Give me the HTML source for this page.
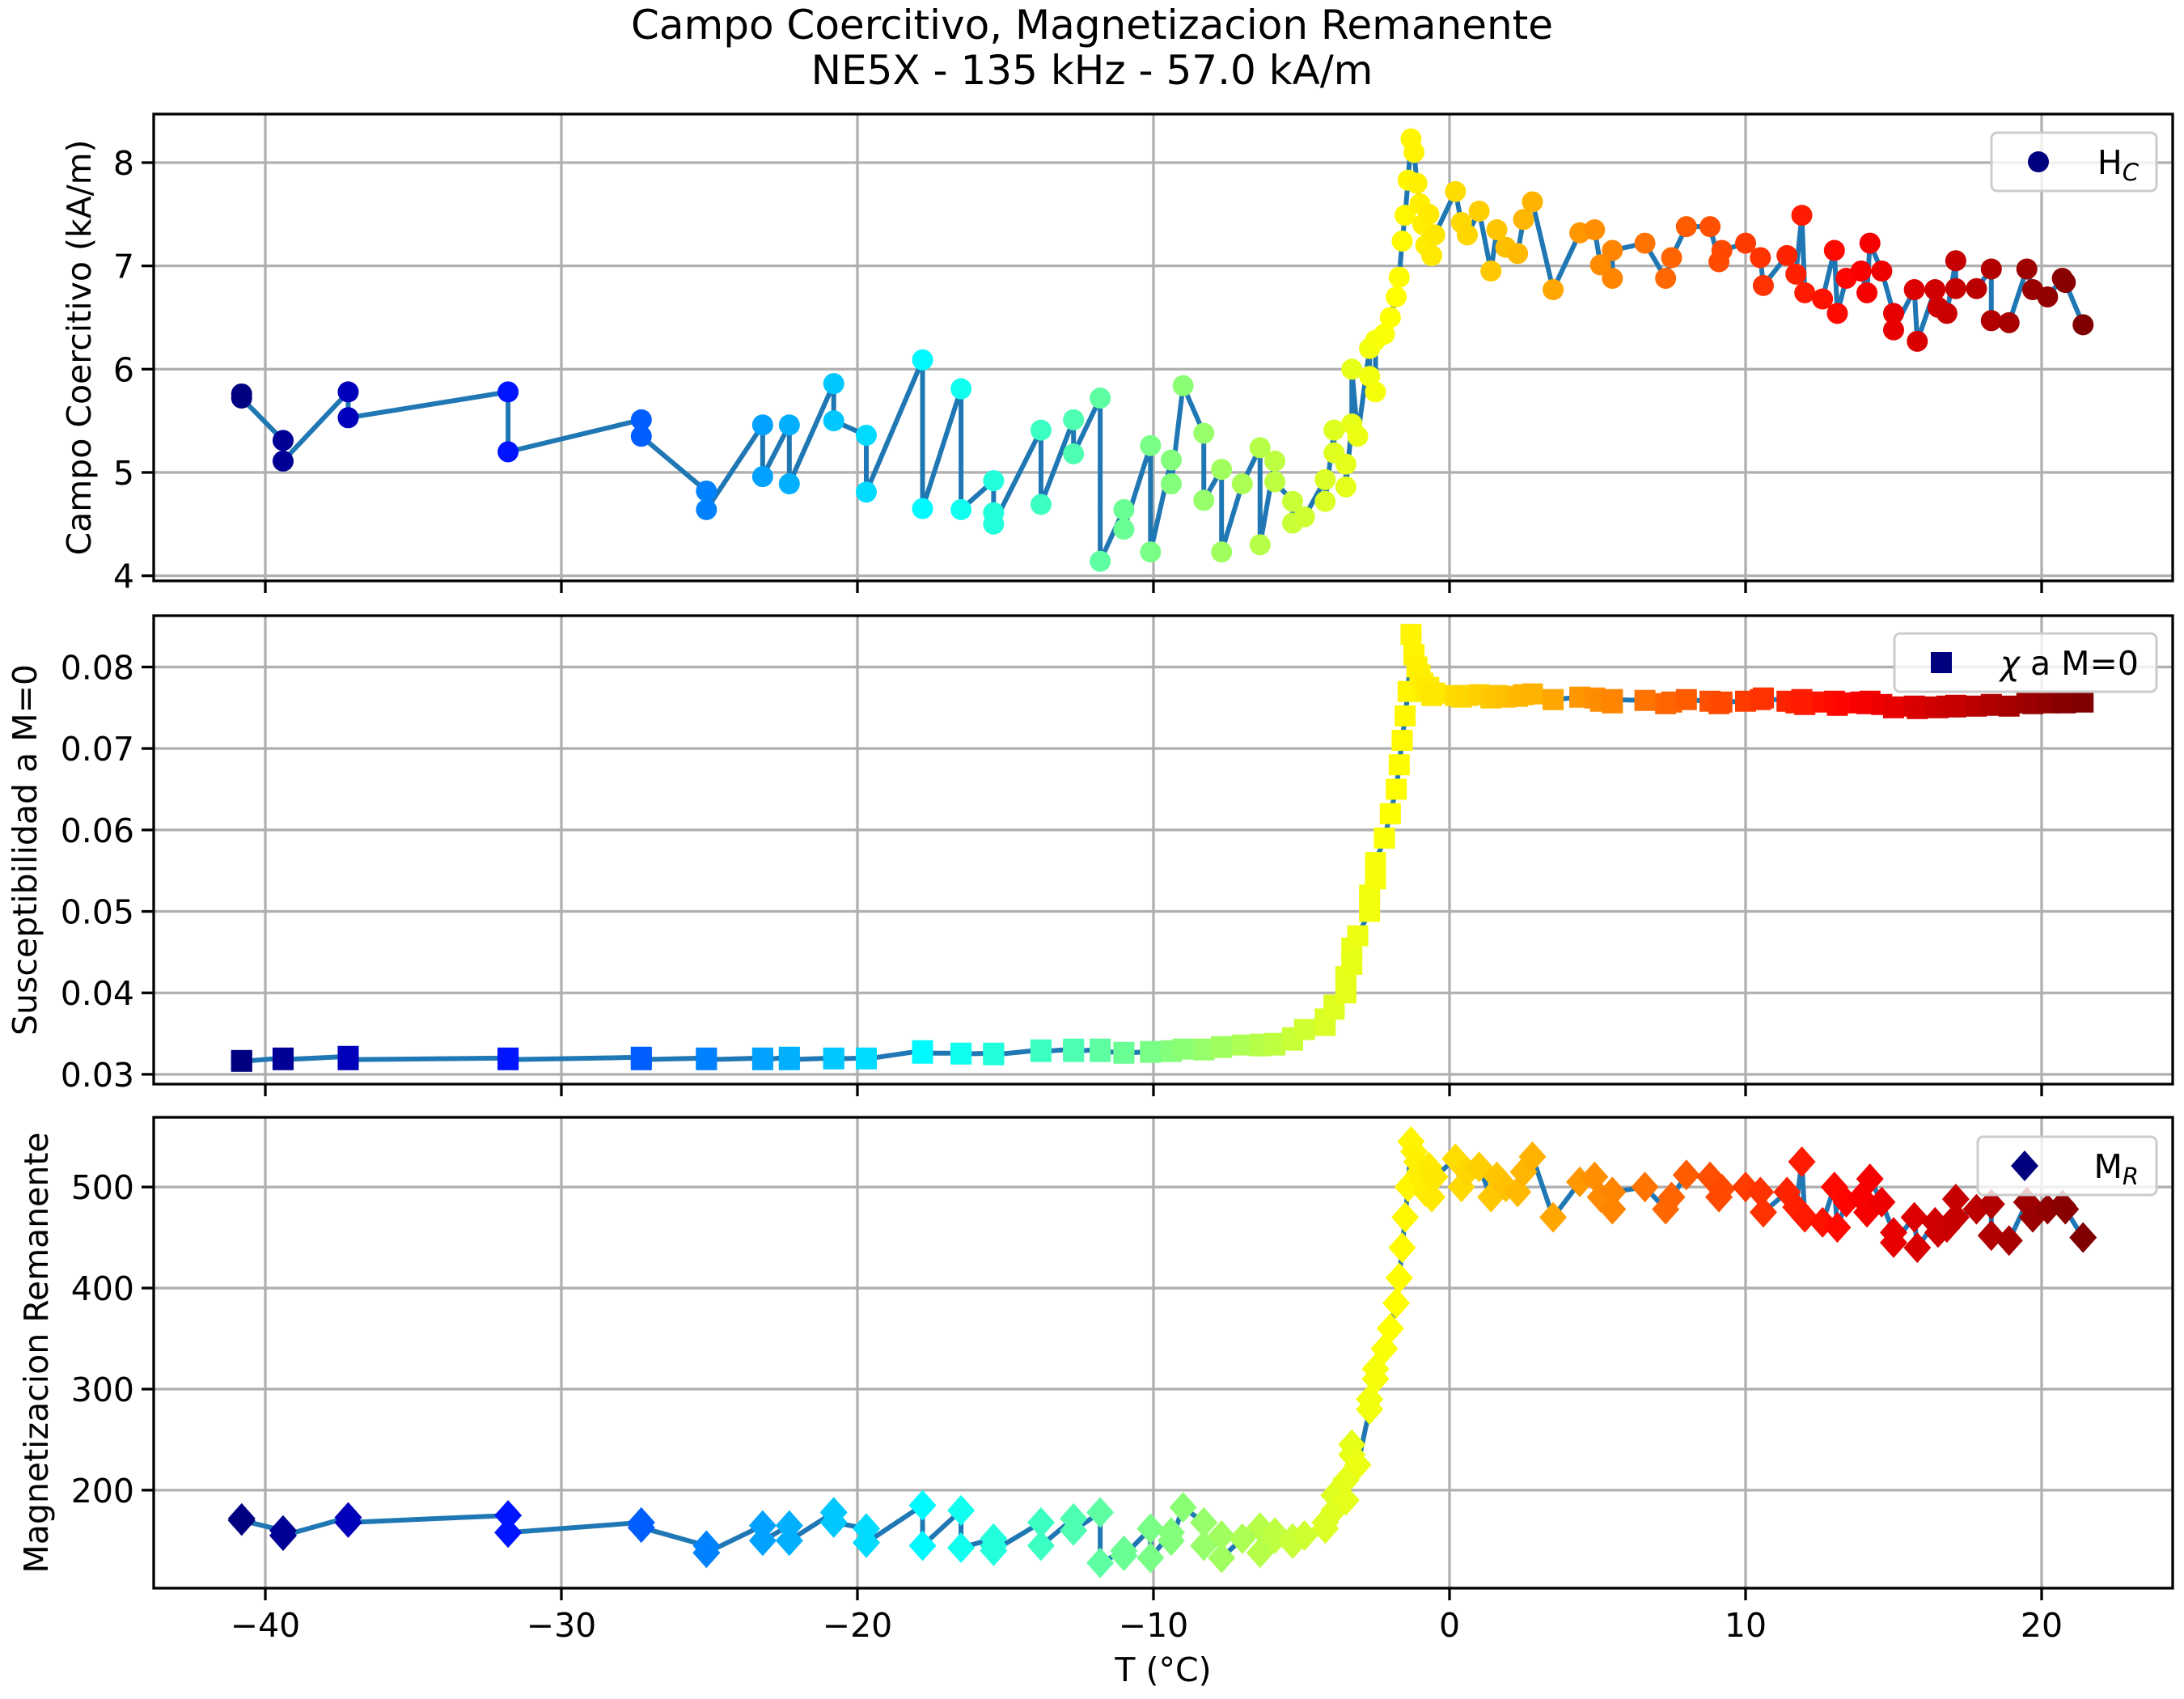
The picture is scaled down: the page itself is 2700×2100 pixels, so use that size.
<!DOCTYPE html>
<html><head><meta charset="utf-8">
<style>
html,body{margin:0;padding:0;background:#fff;}
svg{display:block;font-family:"DejaVu Sans","Liberation Sans",sans-serif;}
</style></head>
<body>
<svg id="chart" width="2700" height="2100" viewBox="0 0 2700 2100" xmlns="http://www.w3.org/2000/svg">
<text x="1350" y="48" font-size="50" text-anchor="middle">Campo Coercitivo, Magnetizacion Remanente</text>
<text x="1350" y="104" font-size="50" text-anchor="middle">NE5X - 135 kHz - 57.0 kA/m</text>
<text x="1438" y="2078" font-size="41" text-anchor="middle">T (°C)</text>
</svg>
<script>
const temps=[-40.8,-40.8,-39.4,-39.4,-37.2,-37.2,-31.8,-31.8,-27.3,-27.3,-25.1,-25.1,-23.2,-23.2,-22.3,-22.3,-20.8,-20.8,-19.7,-19.7,-17.8,-17.8,-16.5,-16.5,-15.4,-15.4,-15.4,-13.8,-13.8,-12.7,-12.7,-11.8,-11.8,-11.0,-11.0,-10.1,-10.1,-9.4,-9.4,-9.0,-8.3,-8.3,-7.7,-7.7,-7.0,-6.4,-6.4,-5.9,-5.9,-5.3,-5.3,-4.9,-4.2,-4.2,-3.9,-3.9,-3.5,-3.5,-3.3,-3.3,-3.1,-2.7,-2.7,-2.5,-2.5,-2.2,-2.0,-1.8,-1.7,-1.6,-1.5,-1.4,-1.3,-1.2,-1.1,-1.0,-0.9,-0.8,-0.7,-0.6,-0.5,0.2,0.4,0.6,1.0,1.4,1.6,1.9,2.3,2.5,2.8,3.5,4.4,4.9,5.1,5.5,5.5,6.6,7.3,7.5,8.0,8.8,9.1,9.2,10.0,10.5,10.6,11.4,11.7,11.9,12.0,12.6,13.0,13.1,13.4,13.9,14.1,14.2,14.6,15.0,15.0,15.7,15.8,16.4,16.5,16.8,17.1,17.1,17.8,18.3,18.3,18.9,19.5,19.7,20.2,20.7,20.8,21.4];
const hcValues=[5.76,5.72,5.31,5.11,5.78,5.53,5.78,5.20,5.51,5.35,4.82,4.64,5.46,4.96,5.46,4.89,5.86,5.50,5.36,4.81,6.09,4.65,5.81,4.64,4.92,4.61,4.50,5.41,4.69,5.51,5.18,5.72,4.14,4.64,4.45,5.26,4.23,5.12,4.89,5.84,5.38,4.73,5.03,4.23,4.89,5.24,4.30,5.11,4.91,4.72,4.51,4.57,4.93,4.72,5.41,5.19,5.08,4.86,5.47,6.00,5.35,6.20,5.93,5.78,6.28,6.34,6.50,6.70,6.89,7.24,7.49,7.83,8.23,8.10,7.80,7.60,7.40,7.20,7.50,7.10,7.30,7.72,7.42,7.30,7.53,6.95,7.35,7.18,7.12,7.45,7.62,6.77,7.32,7.35,7.01,6.88,7.15,7.22,6.88,7.08,7.38,7.38,7.04,7.15,7.22,7.08,6.81,7.10,6.92,7.49,6.74,6.68,7.15,6.54,6.88,6.95,6.74,7.22,6.95,6.54,6.38,6.77,6.27,6.77,6.60,6.54,7.05,6.78,6.78,6.97,6.47,6.45,6.97,6.77,6.70,6.88,6.84,6.43];
const chiValues=[.0317,.0316,.0320,.0318,.0322,.0318,.0320,.0318,.0321,.0318,.0320,.0318,.0320,.0318,.0321,.0318,.0320,.0319,.0320,.0319,.0329,.0326,.0326,.0325,.0326,.0325,.0324,.0330,.0328,.0331,.0328,.0331,.0328,.0327,.0326,.0328,.0327,.0329,.0328,.0331,.0331,.0330,.0334,.0333,.0336,.0337,.0335,.0338,.0336,.0345,.0342,.0355,.0360,.0368,.0380,.0385,.0400,.0420,.0435,.0455,.0470,.0500,.0520,.0540,.0560,.0590,.0620,.0650,.0680,.0710,.0740,.0770,.0840,.0815,.0800,.0790,.0780,.0770,.0775,.0765,.0768,.0765,.0763,.0765,.0766,.0762,.0765,.0763,.0764,.0766,.0767,.0760,.0763,.0762,.0758,.0756,.0760,.0759,.0755,.0757,.0760,.0758,.0755,.0757,.0758,.0760,.0762,.0758,.0756,.0760,.0754,.0757,.0758,.0753,.0756,.0757,.0755,.0758,.0754,.0751,.0750,.0752,.0749,.0751,.0750,.0752,.0753,.0751,.0752,.0754,.0753,.0752,.0756,.0755,.0756,.0757,.0756,.0757];
const mrValues=[172,170,160,155,173,168,175,158,168,163,145,138,165,150,165,150,178,168,162,148,185,145,180,143,152,145,140,168,145,172,160,178,128,140,135,162,133,158,150,183,168,145,155,133,152,163,138,158,152,152,147,155,162,168,180,195,190,210,235,245,225,280,290,310,320,340,360,385,410,440,470,500,545,535,525,515,505,495,520,490,510,528,500,515,520,490,510,500,495,515,530,470,505,510,490,478,495,500,478,490,512,510,490,498,500,495,475,495,480,525,470,465,500,460,485,490,475,508,485,455,445,470,440,465,455,460,488,470,478,483,452,447,485,470,478,482,478,450];
const xTicks=[-40,-30,-20,-10,0,10,20];
const hcTicks=[4,5,6,7,8];
const chiTicks=[0.03,0.04,0.05,0.06,0.07,0.08];
const chiTickLabels=["0.03","0.04","0.05","0.06","0.07","0.08"];
const mrTicks=[200,300,400,500];

const NS="http://www.w3.org/2000/svg";
const svg=document.getElementById('chart');
const L=190,R=2686;
const xScale=t=>1792+(t-0)*36.6;
function mk(tag,attrs,parent){const e=document.createElementNS(NS,tag);for(const k in attrs)e.setAttribute(k,attrs[k]);(parent||svg).appendChild(e);return e;}
function jet(v){const r=Math.max(0,Math.min(1,Math.min(4*v-1.5,-4*v+4.5)));const g=Math.max(0,Math.min(1,Math.min(4*v-0.5,-4*v+3.5)));const b=Math.max(0,Math.min(1,Math.min(4*v+0.5,-4*v+2.5)));return `rgb(${Math.round(r*255)},${Math.round(g*255)},${Math.round(b*255)})`;}
const tmin=Math.min(...temps),tmax=Math.max(...temps);

const panels=[
 {name:'hc',top:141,bot:718,vmin:3.95,vmax:8.47,vals:hcValues,ticks:hcTicks,labels:hcTicks.map(String),marker:'circle',ylabel:'Campo Coercitivo (kA/m)',ylx:98,legend:[2462,164,204,72],leg:'H',sub:'C',showX:false},
 {name:'chi',top:761,bot:1340,vmin:0.0288,vmax:0.0863,vals:chiValues,ticks:chiTicks,labels:chiTickLabels,marker:'square',ylabel:'Susceptibilidad a M=0',ylx:31,legend:[2342,783,324,72],leg:'χ a M=0',showX:false},
 {name:'mr',top:1381,bot:1963,vmin:103,vmax:569,vals:mrValues,ticks:mrTicks,labels:mrTicks.map(String),marker:'diamond',ylabel:'Magnetizacion Remanente',ylx:45,legend:[2445,1405,221,72],leg:'M',sub:'R',showX:true}
];

function marker(g,type,x,y,color){
  let e;
  if(type==='circle'){e=mk('circle',{cx:x,cy:y,r:13,fill:color},g);}
  else if(type==='square'){e=mk('rect',{x:x-13,y:y-13,width:26,height:26,fill:color},g);}
  else {e=mk('polygon',{points:`${x},${y-19} ${x+17},${y} ${x},${y+19} ${x-17},${y}`,fill:color},g);}
  return e;
}

panels.forEach(p=>{
  const ys=v=>p.bot-(v-p.vmin)/(p.vmax-p.vmin)*(p.bot-p.top);
  const g=mk('g',{});
  
  
  xTicks.forEach(t=>{const x=xScale(t);
    const gl=mk('line',{x1:x,x2:x,y1:p.top,y2:p.bot,stroke:'#b0b0b0','stroke-width':3.3},g);
    
    const tk=mk('line',{x1:x,x2:x,y1:p.bot,y2:p.bot+15,stroke:'#000','stroke-width':3.3},g);
    
    if(p.showX){const tl=mk('text',{x:x,y:p.bot+60,'font-size':41,'text-anchor':'middle'},g);tl.textContent=(t<0?'−':'')+Math.abs(t);
      }
  });
  p.ticks.forEach((v,i)=>{const y=ys(v);
    const gl=mk('line',{x1:L,x2:R,y1:y,y2:y,stroke:'#b0b0b0','stroke-width':3.3},g);
    
    const tk=mk('line',{x1:L-15,x2:L,y1:y,y2:y,stroke:'#000','stroke-width':3.3},g);
    
    const tl=mk('text',{x:L-24,y:y+15,'font-size':41,'text-anchor':'end'},g);tl.textContent=p.labels[i];
    
  });
  const pts=temps.map((t,i)=>xScale(t)+','+ys(p.vals[i])).join(' ');
  const pl=mk('polyline',{points:pts,fill:'none',stroke:'#1f77b4','stroke-width':6,'stroke-linejoin':'round'},g);
  
  temps.forEach((t,i)=>{
    const m=marker(g,p.marker,xScale(t),ys(p.vals[i]),jet((t-tmin)/(tmax-tmin)));
    
    
  });
  const fr=mk('rect',{x:L,y:p.top,width:R-L,height:p.bot-p.top,fill:'none',stroke:'#000','stroke-width':3.3},g);
  
  const cy=(p.top+p.bot)/2;
  const yl=mk('text',{x:p.ylx,y:cy,'font-size':41,'text-anchor':'middle',transform:`rotate(-90 ${p.ylx} ${cy})`,'dominant-baseline':'central'},g);
  yl.textContent=p.ylabel;
  
  const [lx,ly,lw,lh]=p.legend;
  const lg=mk('g',{},g);
  
  mk('rect',{x:lx,y:ly,width:lw,height:lh,rx:7,fill:'rgba(255,255,255,0.8)',stroke:'#ccc','stroke-width':3},lg);
  marker(lg,p.marker,lx+58,ly+lh/2,'#00007f');
  const lt=mk('text',{x:lx+lw-22,y:ly+lh/2+15,'font-size':41,'text-anchor':'end'},lg);
  if(p.sub){lt.textContent=p.leg;const ts=mk('tspan',{'font-size':29,'font-style':'italic',dy:8},lt);ts.textContent=p.sub;}
  else{const a=mk('tspan',{'font-style':'italic'},lt);a.textContent='χ';const b=mk('tspan',{},lt);b.textContent=' a M=0';}
});
</script>
</body></html>
